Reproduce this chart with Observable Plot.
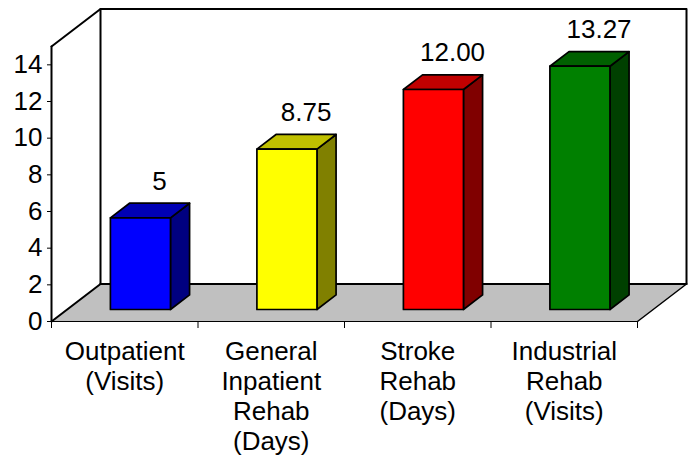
<!DOCTYPE html>
<html>
<head>
<meta charset="utf-8">
<script src="https://cdn.jsdelivr.net/npm/d3@7"></script>
<script src="https://cdn.jsdelivr.net/npm/@observablehq/plot@0.6"></script>
<style>
  html, body { margin: 0; padding: 0; background: #fff; }
  #chart svg { display: block; }
</style>
</head>
<body>
<div id="chart"></div>
<script>
// ---- data ----
const categories = [
  "Outpatient\n(Visits)",
  "General\nInpatient\nRehab\n(Days)",
  "Stroke\nRehab\n(Days)",
  "Industrial\nRehab\n(Visits)"
];
const values = [5, 8.75, 12.00, 13.27];
const valueLabels = ["5", "8.75", "12.00", "13.27"];
const yTicks = [0, 2, 4, 6, 8, 10, 12, 14];
const yMax = 15;

// ---- styles ----
const frontColors = ["#0000ff", "#ffff00", "#ff0000", "#008000"];
const topColors   = ["#0000b4", "#c0c000", "#c00000", "#006000"];
const sideColors  = ["#000080", "#808000", "#800000", "#004000"];

// 3D depth expressed in data units (category units, value units)
const DX = 0.3345, DY = 2.045;
const F1 = 0.32, F2 = 0.71;      // bar front / back depth fractions
const BW = 0.41;                 // bar width (category units)
const N = categories.length;

const P = (x, y, f) => ({x: x + f * DX, y: y + f * DY});

// bar faces
const faces = [];
values.forEach((v, i) => {
  const xl = i + 0.5 - BW / 2, xr = i + 0.5 + BW / 2;
  const add = (id, color, pts) => pts.forEach(p => faces.push({...p, id, color}));
  add(`s${i}`, sideColors[i], [P(xr, 0, F1), P(xr, 0, F2), P(xr, v, F2), P(xr, v, F1)]);
  add(`t${i}`, topColors[i], [P(xl, v, F1), P(xr, v, F1), P(xr, v, F2), P(xl, v, F2)]);
  add(`f${i}`, frontColors[i], [P(xl, 0, F1), P(xr, 0, F1), P(xr, v, F1), P(xl, v, F1)]);
});

const floor = [P(0, 0, 0), P(N, 0, 0), P(N, 0, 1), P(0, 0, 1)];
const backWall = [P(0, 0, 1), P(0, yMax, 1), P(N, yMax, 1), P(N, 0, 1)];
const floorBack = [P(0, 0, 1), P(N, 0, 1)];
const floorLeft = [P(0, 0, 0), P(0, 0, 1)];
const floorRight = [P(N, 0, 0), P(N, 0, 1)];
const floorFront = [P(0, 0, 0), P(N, 0, 0)];
const leftTop = [P(0, yMax, 0), P(0, yMax, 1)];
const leftAxis = [P(0, 0, 0), P(0, yMax, 0)];

const FONT = "'Liberation Sans', Arial, Helvetica, sans-serif";
const FS = 26;

const chart = Plot.plot({
  width: 693,
  height: 464,
  marginLeft: 51,
  marginRight: 56,
  marginTop: 46,
  marginBottom: 143,
  style: {fontFamily: FONT, fontSize: FS + "px", color: "black", background: "white"},
  x: {domain: [0, N], axis: null, label: null},
  y: {domain: [0, yMax], axis: null, label: null},
  color: {type: "identity"},
  marks: [
    Plot.line(floor, {x: "x", y: "y", fill: "#c0c0c0", stroke: "none", curve: "linear-closed"}),
    Plot.line(backWall, {x: "x", y: "y", stroke: "black", strokeWidth: 2}),
    Plot.line(floorBack, {x: "x", y: "y", stroke: "black", strokeWidth: 2}),
    Plot.line(floorLeft, {x: "x", y: "y", stroke: "black", strokeWidth: 2}),
    Plot.line(floorRight, {x: "x", y: "y", stroke: "black", strokeWidth: 1.5}),
    Plot.line(floorFront, {x: "x", y: "y", stroke: "black", strokeWidth: 1}),
    Plot.line(leftTop, {x: "x", y: "y", stroke: "black", strokeWidth: 2}),
    Plot.line(leftAxis, {x: "x", y: "y", stroke: "black", strokeWidth: 2}),
    Plot.line(faces, {x: "x", y: "y", z: "id", fill: "color", stroke: "black",
      strokeWidth: 1.7, strokeLinejoin: "round", curve: "linear-closed"}),
    Plot.axisY({ticks: yTicks, tickSize: 4, tickPadding: 5, fontSize: FS, label: null,
      stroke: "black", fill: "black", strokeWidth: 1}),
    Plot.axisX({ticks: d3.range(N + 1), tickSize: 7, tickFormat: () => "", label: null,
      stroke: "black", strokeWidth: 1}),
    Plot.text(categories, {x: (d, i) => i + 0.5, y: 0, text: d => d, dy: 17,
      lineAnchor: "top", lineHeight: 1.16, fontSize: FS, fill: "black"}),
    Plot.text(values, {x: (d, i) => i + 0.5 + F2 * DX, y: d => d + F2 * DY,
      text: (d, i) => valueLabels[i], dy: -22, fontSize: FS, fill: "black"})
  ]
});
document.getElementById("chart").append(chart);
</script>
</body>
</html>
